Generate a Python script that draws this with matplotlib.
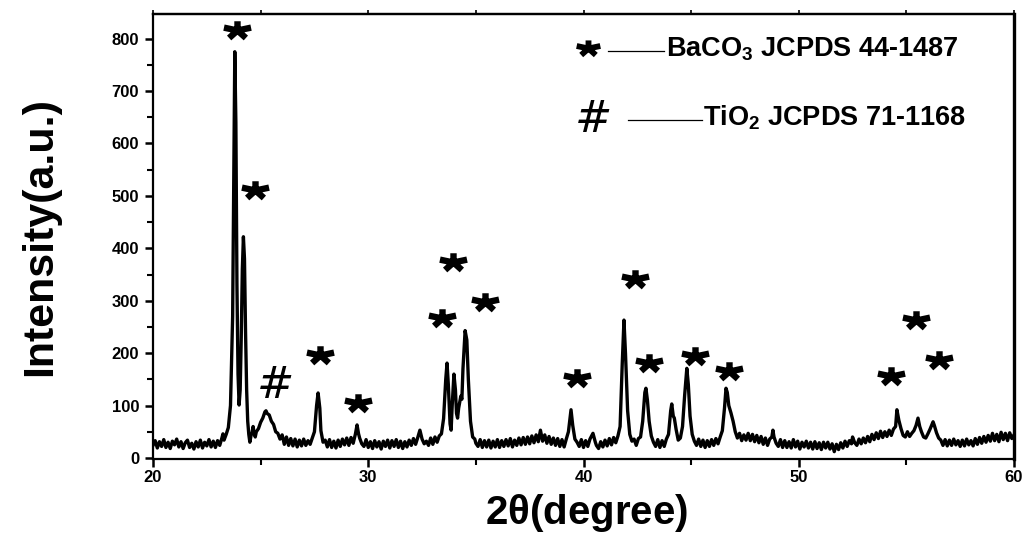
import matplotlib
matplotlib.use("Agg")
import matplotlib.pyplot as plt
import matplotlib.path as mpath
import numpy as np
from matplotlib.ticker import MultipleLocator

# ---------------- data ----------------
two_theta = [
    20.0, 20.1, 20.2, 20.3, 20.4, 20.5, 20.6, 20.7, 20.8, 20.9,
    21.0, 21.1, 21.2, 21.3, 21.4, 21.5, 21.6, 21.7, 21.8, 21.9,
    22.0, 22.1, 22.2, 22.3, 22.4, 22.5, 22.6, 22.7, 22.8, 22.9,
    23.0, 23.1, 23.2, 23.25, 23.3, 23.4, 23.5, 23.6, 23.7, 23.75,
    23.8, 23.85, 23.9, 23.95, 24.0, 24.05, 24.1, 24.15, 24.2, 24.25,
    24.3, 24.35, 24.4, 24.45, 24.5, 24.55, 24.6, 24.65, 24.7, 24.75,
    24.8, 24.9, 25.0, 25.1, 25.2, 25.25, 25.3, 25.4, 25.5, 25.6,
    25.7, 25.8, 25.9, 26.0, 26.1, 26.2, 26.3, 26.4, 26.5, 26.6,
    26.7, 26.8, 26.9, 27.0, 27.1, 27.2, 27.3, 27.4, 27.5, 27.6,
    27.67, 27.75, 27.8, 27.9, 28.0, 28.1, 28.2, 28.3, 28.4, 28.5,
    28.6, 28.7, 28.8, 28.9, 29.0, 29.1, 29.2, 29.3, 29.4, 29.48,
    29.55, 29.6, 29.7, 29.8, 29.9, 30.0, 30.1, 30.2, 30.3, 30.4,
    30.5, 30.6, 30.7, 30.8, 30.9, 31.0, 31.1, 31.2, 31.3, 31.4,
    31.5, 31.6, 31.7, 31.8, 31.9, 32.0, 32.1, 32.2, 32.3, 32.4,
    32.5, 32.6, 32.7, 32.8, 32.9, 33.0, 33.1, 33.2, 33.3, 33.4,
    33.5, 33.6, 33.66, 33.72, 33.8, 33.85, 33.9, 33.98, 34.05, 34.1,
    34.15, 34.2, 34.3, 34.35, 34.4, 34.5, 34.58, 34.65, 34.75, 34.85,
    34.95, 35.0, 35.1, 35.2, 35.3, 35.4, 35.5, 35.6, 35.7, 35.8,
    35.9, 36.0, 36.1, 36.2, 36.3, 36.4, 36.5, 36.6, 36.7, 36.8,
    36.9, 37.0, 37.1, 37.2, 37.3, 37.4, 37.5, 37.6, 37.7, 37.8,
    37.9, 38.0, 38.1, 38.2, 38.3, 38.4, 38.5, 38.6, 38.7, 38.8,
    38.9, 39.0, 39.1, 39.2, 39.3, 39.42, 39.5, 39.6, 39.7, 39.8,
    39.9, 40.0, 40.1, 40.2, 40.3, 40.44, 40.55, 40.6, 40.7, 40.8,
    40.9, 41.0, 41.1, 41.2, 41.3, 41.4, 41.5, 41.6, 41.7, 41.8,
    41.88, 41.95, 42.05, 42.15, 42.25, 42.35, 42.45, 42.55, 42.65, 42.75,
    42.85, 42.9, 42.97, 43.05, 43.15, 43.25, 43.35, 43.45, 43.55, 43.65,
    43.75, 43.85, 43.95, 44.05, 44.1, 44.17, 44.22, 44.3, 44.4, 44.5,
    44.6, 44.7, 44.8, 44.87, 44.95, 45.05, 45.15, 45.25, 45.35, 45.45,
    45.55, 45.65, 45.75, 45.85, 45.95, 46.05, 46.15, 46.25, 46.35, 46.45,
    46.55, 46.62, 46.68, 46.75, 46.85, 46.95, 47.05, 47.15, 47.25, 47.35,
    47.45, 47.55, 47.65, 47.75, 47.85, 47.95, 48.05, 48.15, 48.25, 48.35,
    48.45, 48.55, 48.65, 48.75, 48.8, 48.85, 48.95, 49.05, 49.15, 49.25,
    49.35, 49.45, 49.55, 49.65, 49.75, 49.85, 49.95, 50.05, 50.15, 50.25,
    50.35, 50.45, 50.55, 50.65, 50.75, 50.85, 50.95, 51.05, 51.15, 51.25,
    51.35, 51.45, 51.55, 51.65, 51.75, 51.85, 51.95, 52.05, 52.15, 52.25,
    52.35, 52.45, 52.5, 52.6, 52.7, 52.8, 52.9, 53.0, 53.1, 53.2,
    53.3, 53.4, 53.5, 53.6, 53.7, 53.8, 53.9, 54.0, 54.1, 54.2,
    54.3, 54.4, 54.5, 54.56, 54.65, 54.75, 54.85, 54.95, 55.05, 55.15,
    55.25, 55.35, 55.45, 55.54, 55.62, 55.7, 55.8, 55.9, 56.0, 56.1,
    56.24, 56.3, 56.4, 56.5, 56.6, 56.7, 56.8, 56.9, 57.0, 57.1,
    57.2, 57.3, 57.4, 57.5, 57.6, 57.7, 57.8, 57.9, 58.0, 58.1,
    58.2, 58.3, 58.4, 58.5, 58.6, 58.7, 58.8, 58.9, 59.0, 59.1,
    59.2, 59.3, 59.4, 59.5, 59.6, 59.7, 59.8, 59.9, 60.0,
]
intensity = [
    24, 33, 19, 31, 22, 35, 20, 30, 18, 32,
    25, 36, 21, 31, 18, 29, 34, 20, 28, 17,
    31, 21, 34, 19, 30, 23, 35, 21, 32, 20,
    33, 24, 38, 46, 34, 45, 58, 100, 270, 520,
    775, 640, 330, 160, 101, 130, 230, 360, 422, 380,
    240, 130, 70, 45, 30, 42, 48, 60, 47, 40,
    50, 56, 68, 76, 88, 90, 85, 82, 70, 64,
    50, 47, 36, 44, 26, 40, 24, 37, 23, 36,
    21, 34, 23, 36, 24, 33, 26, 38, 50, 100,
    124, 95, 52, 30, 34, 21, 35, 20, 32, 19,
    34, 22, 36, 25, 38, 24, 39, 28, 45, 63,
    46, 38, 27, 22, 35, 20, 31, 18, 33, 21,
    31, 17, 32, 22, 34, 19, 33, 22, 35, 20,
    32, 18, 31, 21, 34, 24, 37, 26, 39, 53,
    36, 27, 32, 24, 38, 26, 40, 30, 42, 46,
    75, 150, 181, 140, 65, 53, 100, 160, 130, 85,
    76, 95, 118, 112, 170, 243, 225, 150, 70, 40,
    36, 28, 22, 35, 20, 33, 21, 34, 19, 32,
    21, 35, 20, 33, 22, 35, 23, 37, 21, 34,
    24, 38, 25, 39, 26, 40, 27, 42, 29, 44,
    31, 53, 32, 44, 28, 41, 26, 38, 24, 37,
    22, 35, 21, 36, 50, 92, 62, 36, 30, 22,
    35, 20, 33, 22, 36, 47, 30, 24, 18, 31,
    21, 34, 23, 37, 25, 39, 29, 42, 60, 180,
    263, 200, 90, 45, 32, 36, 24, 37, 40, 70,
    125, 133, 110, 70, 42, 30, 22, 35, 20, 33,
    22, 36, 45, 90, 103, 80, 76, 55, 34, 38,
    60, 120, 171, 140, 80, 45, 32, 24, 36, 22,
    34, 20, 33, 22, 35, 24, 37, 27, 40, 52,
    95, 133, 125, 100, 86, 70, 50, 38, 47, 33,
    44, 34, 47, 33, 45, 31, 43, 29, 41, 26,
    38, 24, 36, 40, 53, 40, 28, 22, 35, 20,
    33, 20, 31, 19, 35, 21, 32, 17, 30, 21,
    32, 19, 30, 17, 31, 18, 29, 16, 30, 19,
    30, 17, 27, 12, 26, 16, 29, 19, 32, 22,
    33, 27, 40, 29, 24, 36, 27, 38, 29, 41,
    31, 45, 35, 48, 37, 51, 39, 50, 41, 53,
    43, 55, 60, 92, 72, 56, 43, 40, 50, 41,
    47, 52, 62, 76, 60, 50, 40, 38, 46, 55,
    69, 62, 48, 38, 34, 24, 35, 23, 34, 24,
    36, 25, 33, 22, 34, 23, 36, 25, 33, 23,
    37, 26, 39, 28, 41, 30, 43, 32, 47, 33,
    45, 31, 49, 35, 47, 33, 48, 37, 44,
]

# peak markers: BaCO3 (*) and TiO2 (#)
star_x = [23.9, 24.74, 27.76, 29.52, 33.43, 33.94, 35.42, 39.7,
          42.39, 43.04, 45.18, 46.76, 54.28, 55.45, 56.52]
star_y = [817, 511, 197, 105, 267, 374, 298, 152,
          341, 181, 195, 166, 156, 263, 187]
hash_x = [25.67]
hash_y = [139]

legend_labels = [r"BaCO$_\mathbf{3}$ JCPDS 44-1487", r"TiO$_\mathbf{2}$ JCPDS 71-1168"]

x_ticks = [20, 30, 40, 50, 60]
y_ticks = [0, 100, 200, 300, 400, 500, 600, 700, 800]

# ---------------- style ----------------
plt.rcParams["font.family"] = ["Liberation Sans", "DejaVu Sans"]
plt.rcParams["font.weight"] = "bold"
plt.rcParams["mathtext.fontset"] = "custom"
plt.rcParams["mathtext.rm"] = "Liberation Sans"
plt.rcParams["mathtext.bf"] = "Liberation Sans:bold"
plt.rcParams["mathtext.it"] = "Liberation Sans:italic"

# 5-armed, flattened asterisk marker
ang = np.deg2rad([90, 18, 162, 234, 306])
verts, codes = [], []
for a in ang:
    verts += [(0.0, 0.0), (np.cos(a), 0.65 * np.sin(a))]
    codes += [mpath.Path.MOVETO, mpath.Path.LINETO]
asterisk = mpath.Path(verts, codes)

W, H = 1028, 536
fig = plt.figure(figsize=(W / 100, H / 100), dpi=100)
ax = fig.add_axes([153 / W, 1 - 459 / H, 861 / W, 445 / H])

ax.plot(two_theta, intensity, color="black", lw=2.4, solid_joinstyle="round")

ax.plot(star_x, star_y, ls="none", marker=asterisk, ms=19.5, mew=4.6,
        color="black", clip_on=False)
for hx, hy in zip(hash_x, hash_y):
    ax.text(hx, hy, "#", ha="center", va="center", fontsize=32,
            fontweight="normal", family="DejaVu Sans", fontstyle="italic")

ax.set_xlim(20, 60)
ax.set_ylim(-2, 847)
ax.set_xticks(x_ticks)
ax.set_yticks(y_ticks)
ax.xaxis.set_minor_locator(MultipleLocator(5))
ax.yaxis.set_minor_locator(MultipleLocator(50))
ax.tick_params(which="major", direction="out", length=6, width=1.8,
               labelsize=12)
ax.tick_params(axis="x", which="major", pad=2)
ax.tick_params(axis="y", which="major", pad=4)
ax.tick_params(which="minor", direction="out", length=4, width=1.5)
for lab in ax.get_xticklabels() + ax.get_yticklabels():
    lab.set_fontweight("bold")

for side in ["left", "bottom", "top"]:
    ax.spines[side].set_linewidth(1.6)
ax.spines["right"].set_linewidth(2.4)

sec = ax.secondary_xaxis("top")
sec.set_xticks([20, 25, 30, 35, 40, 45, 50, 55, 60])
sec.tick_params(direction="out", length=3, width=1.2, labeltop=False)
sec.spines["top"].set_linewidth(1.6)


def fx(px):
    return px / W


def fy(py):
    return 1 - py / H


# axis titles
fig.text(fx(587), fy(513), r"2$\mathrm{\theta}$(degree)", fontsize=29,
         fontweight="bold", ha="center", va="center")
fig.text(fx(40), fy(236), "Intensity(a.u.)", fontsize=31, fontweight="bold",
         ha="center", va="center", rotation=90)

# legend-like annotations (figure pixels)
fig.lines.append(plt.Line2D([fx(588)], [fy(48)], ls="none", marker=asterisk,
                            ms=17, mew=4.2, color="black",
                            transform=fig.transFigure))
fig.lines.append(plt.Line2D([fx(608), fx(664)], [fy(51), fy(51)], lw=0.9,
                            color="black", transform=fig.transFigure))
fig.text(fx(666), fy(49), legend_labels[0], fontsize=19.5, fontweight="bold",
         ha="left", va="center")

fig.text(fx(594), fy(120), "#", fontsize=32, fontweight="normal",
         family="DejaVu Sans", fontstyle="italic", ha="center", va="center")
fig.lines.append(plt.Line2D([fx(628), fx(702)], [fy(120), fy(120)], lw=0.9,
                            color="black", transform=fig.transFigure))
fig.text(fx(703), fy(118), legend_labels[1], fontsize=19.5, fontweight="bold",
         ha="left", va="center")

fig.savefig("out.png", dpi=100)
